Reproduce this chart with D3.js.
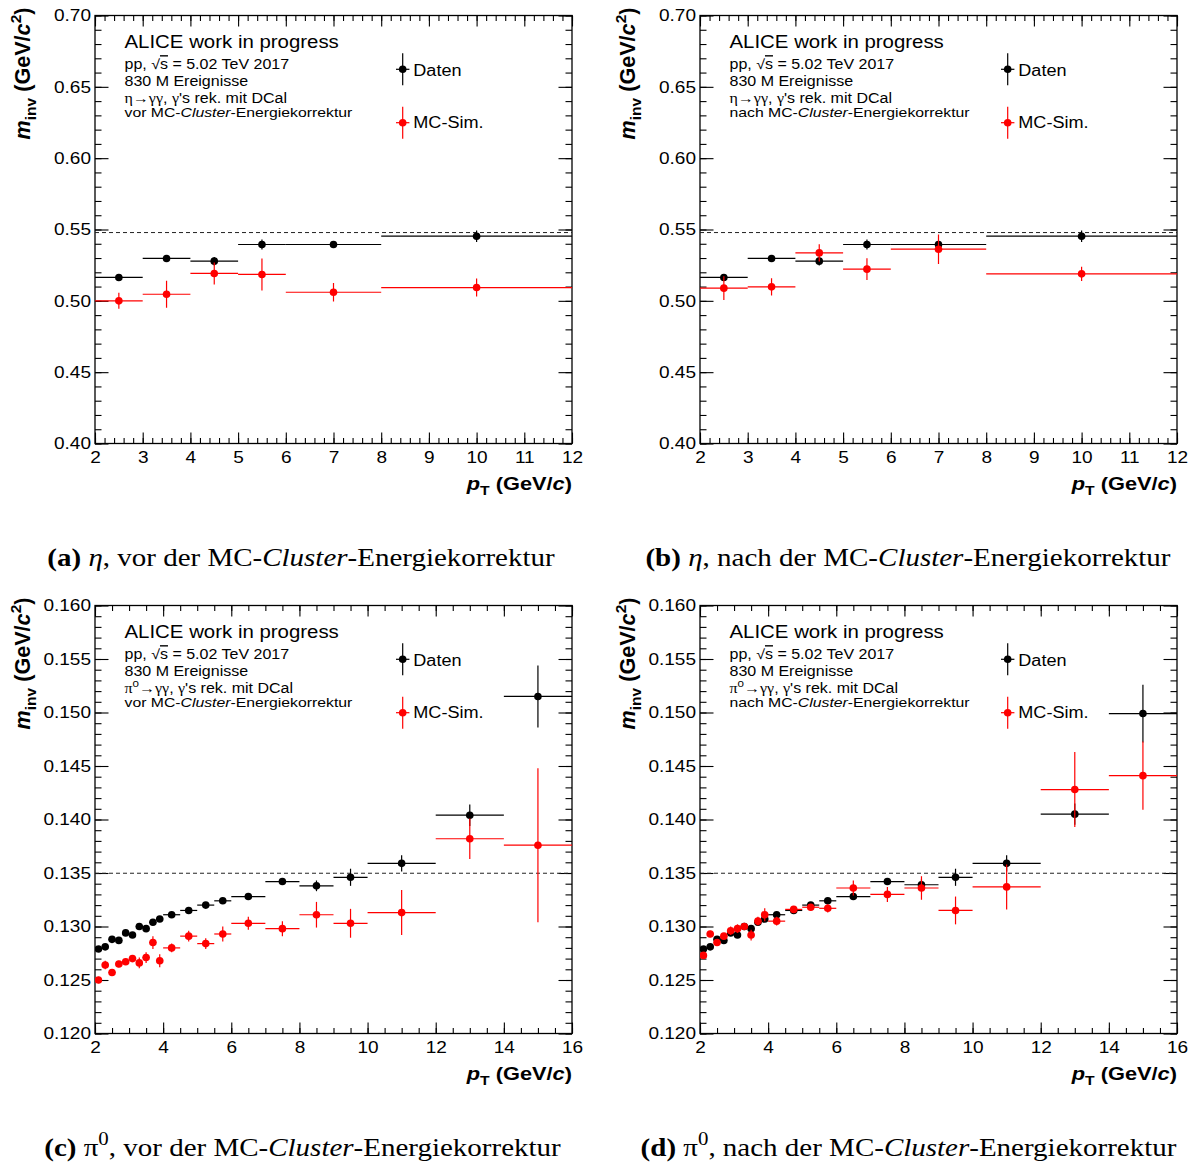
<!DOCTYPE html>
<html>
<head>
<meta charset="utf-8">
<script src="https://cdn.jsdelivr.net/npm/d3@7"></script>
<style>
  body { margin: 0; background: #fff; }
  svg { display: block; }
</style>
</head>
<body>
<svg id="fig" width="1197" height="1164"></svg>
<script>
// ---- eta meson: pT bin edges (GeV/c) and reconstructed mass peak positions (GeV/c^2) ----
const etaPtEdges = [2, 3, 4, 5, 6, 8, 12];
const etaMassData = [0.5164, 0.5297, 0.5278, 0.5395, 0.5395, 0.5453];
const etaMassDataErr = [0.0020, 0.0018, 0.0030, 0.0035, 0.0020, 0.0040];
const etaMassMCvor = [0.5000, 0.5046, 0.5192, 0.5185, 0.5060, 0.5093];
const etaMassMCvorErr = [0.0056, 0.0095, 0.0077, 0.0112, 0.0065, 0.0063];
const etaMassMCnach = [0.5089, 0.5098, 0.5336, 0.5222, 0.5362, 0.5189];
const etaMassMCnachErr = [0.0083, 0.0060, 0.0060, 0.0076, 0.0103, 0.0050];

// ---- neutral pion ----
const pi0PtEdges = [2.0, 2.2, 2.4, 2.6, 2.8, 3.0, 3.2, 3.4, 3.6, 3.8, 4.0, 4.5, 5.0, 5.5, 6.0, 7.0, 8.0, 9.0, 10.0, 12.0, 14.0, 16.0];
const pi0MassDataVor = [0.1279, 0.1281, 0.1288, 0.1287, 0.1294, 0.1292, 0.1300, 0.1298, 0.1304, 0.1307,
                        0.1311, 0.1315, 0.1320, 0.1324, 0.1328, 0.1342, 0.1338, 0.1346, 0.1359, 0.1404, 0.1515];
const pi0MassDataVorErr = [0.0002, 0.0002, 0.0002, 0.0002, 0.0002, 0.0002, 0.0002, 0.0002, 0.0002, 0.0002,
                           0.0002, 0.0002, 0.0002, 0.0002, 0.0003, 0.0003, 0.0005, 0.0008, 0.00075, 0.0010, 0.0029];
const pi0MassDataNach = [0.1279, 0.1281, 0.1288, 0.1287, 0.1294, 0.1292, 0.1300, 0.1298, 0.1304, 0.1307,
                         0.1311, 0.1315, 0.1320, 0.1324, 0.1328, 0.1342, 0.1339, 0.1346, 0.1359, 0.1405, 0.1499];
const pi0MassDataNachErr = [0.0002, 0.0002, 0.0002, 0.0002, 0.0002, 0.0002, 0.0002, 0.0002, 0.0002, 0.0002,
                            0.0002, 0.0002, 0.0002, 0.0002, 0.0003, 0.0003, 0.0005, 0.0008, 0.00075, 0.0010, 0.0027];
const pi0MassMCvor = [0.1250, 0.1264, 0.1257, 0.1265, 0.1267, 0.1270, 0.1266, 0.1271, 0.1285, 0.1268,
                      0.1280, 0.1291, 0.1284, 0.1293, 0.1303, 0.1298, 0.1311, 0.1303, 0.1313, 0.1382, 0.1376];
const pi0MassMCvorErr = [0.0003, 0.0004, 0.0003, 0.0003, 0.0003, 0.0003, 0.0005, 0.0005, 0.0006, 0.0006,
                         0.0004, 0.0005, 0.0005, 0.0007, 0.0006, 0.0007, 0.0012, 0.00135, 0.0021, 0.0019, 0.0072];
const pi0MassMCnach = [0.1273, 0.1293, 0.1285, 0.1291, 0.1296, 0.1298, 0.1300, 0.1292, 0.1305, 0.1311,
                       0.1305, 0.1316, 0.1318, 0.1317, 0.1336, 0.1330, 0.1336, 0.1315, 0.1337, 0.1428, 0.1441];
const pi0MassMCnachErr = [0.0003, 0.0003, 0.0003, 0.0003, 0.0004, 0.0004, 0.0003, 0.0005, 0.0004, 0.0006,
                          0.0004, 0.0003, 0.0003, 0.0004, 0.0007, 0.0007, 0.0011, 0.0013, 0.0021, 0.0035, 0.0032];

// nominal meson masses (dashed reference lines)
const etaMassPDG = 0.547862;
const pi0MassPDG = 0.134977;

// axis ranges
const etaXRange = [2, 12], etaYRange = [0.40, 0.70];
const pi0XRange = [2, 16], pi0YRange = [0.120, 0.160];

const legendLabels = ["Daten", "MC-Sim."];
const headline = "ALICE work in progress";
const eventsLine = "830 M Ereignisse";

const svg = d3.select("#fig");
const SANS = "'Liberation Sans', Arial, Helvetica, sans-serif";
const SERIF = "'Liberation Serif', 'Times New Roman', serif";
const W = 477, H = 428;
const SX = 1.16;   // horizontal stretch applied to all horizontal text

// append tspans with optional italic/bold/sub/superscript runs
function rich(textSel, parts, size) {
  let cur = 0;
  parts.forEach(p => {
    const ts = textSel.append("tspan").text(p.t);
    let off = 0, fs = p.fs || size;
    if (p.sub) { off = size * 0.28; fs = size * 0.72; }
    if (p.sup) { off = -size * 0.42; fs = size * 0.72; }
    if (off - cur !== 0) ts.attr("dy", off - cur);
    cur = off;
    ts.attr("font-size", fs);
    if (p.it) ts.attr("font-style", "italic");
    if (p.b) ts.attr("font-weight", "bold");
    if (p.ff) ts.attr("font-family", p.ff);
    if (p.ol) ts.attr("text-decoration", "overline");
  });
}

// horizontally stretched text anchored at (x, y)
function stext(parent, x, y) {
  return parent.append("text").attr("transform", `translate(${x},${y}) scale(${SX},1)`);
}

function ticksBetween(lo, hi, step) {
  const n = Math.round((hi - lo) / step);
  return d3.range(n + 1).map(i => +(lo + i * step).toFixed(6));
}

function drawPanel(p) {
  const g = svg.append("g");
  const x = d3.scaleLinear().domain(p.xRange).range([p.left, p.left + W]);
  const y = d3.scaleLinear().domain(p.yRange).range([p.top + H, p.top]);
  const x0 = p.left, x1 = p.left + W, y0 = p.top, y1 = p.top + H;

  const majX = ticksBetween(p.xRange[0], p.xRange[1], p.xMajor);
  const minX = ticksBetween(p.xRange[0], p.xRange[1], p.xMinor);
  const majY = ticksBetween(p.yRange[0], p.yRange[1], p.yMajor);
  const minY = ticksBetween(p.yRange[0], p.yRange[1], p.yMinor);

  const styleAxis = sel => {
    sel.select(".domain").remove();
    sel.selectAll("line").attr("stroke", "#000").attr("stroke-width", 1.1);
    sel.selectAll("text").each(function () {
      const t = d3.select(this);
      const tx = +t.attr("x") || 0, ty = +t.attr("y") || 0;
      t.attr("x", null).attr("y", null)
        .attr("transform", `translate(${tx},${ty}) scale(${SX},1)`)
        .attr("font-family", SANS).attr("font-size", 16.4).attr("fill", "#000");
    });
  };

  // bottom axis with labels (ticks point inward)
  g.append("g").attr("transform", `translate(0,${y1})`)
    .call(d3.axisBottom(x).tickValues(majX).tickSizeInner(-11).tickSizeOuter(0).tickPadding(8)
      .tickFormat(d3.format("d")))
    .call(styleAxis);
  g.append("g").attr("transform", `translate(0,${y1})`)
    .call(d3.axisBottom(x).tickValues(minX).tickSizeInner(-5.5).tickSizeOuter(0).tickFormat(""))
    .call(styleAxis);
  // top axis
  g.append("g").attr("transform", `translate(0,${y0})`)
    .call(d3.axisTop(x).tickValues(majX).tickSizeInner(-11).tickSizeOuter(0).tickFormat(""))
    .call(styleAxis);
  g.append("g").attr("transform", `translate(0,${y0})`)
    .call(d3.axisTop(x).tickValues(minX).tickSizeInner(-5.5).tickSizeOuter(0).tickFormat(""))
    .call(styleAxis);
  // left axis with labels
  g.append("g").attr("transform", `translate(${x0},0)`)
    .call(d3.axisLeft(y).tickValues(majY).tickSizeInner(-13.5).tickSizeOuter(0).tickPadding(4)
      .tickFormat(d3.format(p.yFmt)))
    .call(styleAxis);
  g.append("g").attr("transform", `translate(${x0},0)`)
    .call(d3.axisLeft(y).tickValues(minY).tickSizeInner(-6.5).tickSizeOuter(0).tickFormat(""))
    .call(styleAxis);
  // right axis
  g.append("g").attr("transform", `translate(${x1},0)`)
    .call(d3.axisRight(y).tickValues(majY).tickSizeInner(-13.5).tickSizeOuter(0).tickFormat(""))
    .call(styleAxis);
  g.append("g").attr("transform", `translate(${x1},0)`)
    .call(d3.axisRight(y).tickValues(minY).tickSizeInner(-6.5).tickSizeOuter(0).tickFormat(""))
    .call(styleAxis);

  // frame
  g.append("rect").attr("x", x0).attr("y", y0).attr("width", W).attr("height", H)
    .attr("fill", "none").attr("stroke", "#000").attr("stroke-width", 1.3);

  // clip for data
  const clipId = "clip-" + p.id;
  svg.append("clipPath").attr("id", clipId).append("rect")
    .attr("x", x0).attr("y", y0).attr("width", W).attr("height", H);
  const plot = g.append("g").attr("clip-path", `url(#${clipId})`);

  // nominal mass line
  plot.append("line")
    .attr("x1", x(p.xRange[0])).attr("x2", x(p.xRange[1]))
    .attr("y1", y(p.refMass)).attr("y2", y(p.refMass))
    .attr("stroke", "#222").attr("stroke-width", 1).attr("stroke-dasharray", "4,3");

  // series: horizontal bin-width bars, vertical errors, markers
  p.series.forEach(s => {
    const pts = s.values.map((v, i) => ({
      lo: p.edges[i], hi: p.edges[i + 1], c: (p.edges[i] + p.edges[i + 1]) / 2, v, e: s.errors[i]
    }));
    const sg = plot.append("g");
    sg.selectAll(".hbar").data(pts).join("line")
      .attr("x1", d => x(d.lo)).attr("x2", d => x(d.hi))
      .attr("y1", d => y(d.v)).attr("y2", d => y(d.v))
      .attr("stroke", s.color).attr("stroke-width", 1.2);
    sg.selectAll(".vbar").data(pts).join("line")
      .attr("x1", d => x(d.c)).attr("x2", d => x(d.c))
      .attr("y1", d => y(d.v - d.e)).attr("y2", d => y(d.v + d.e))
      .attr("stroke", s.color).attr("stroke-width", 1.2);
    sg.selectAll("circle").data(pts).join("circle")
      .attr("cx", d => x(d.c)).attr("cy", d => y(d.v)).attr("r", 3.8)
      .attr("fill", s.color);
  });

  // axis titles
  const yt = g.append("text")
    .attr("transform", `translate(${x0 - 65},${y0 - 8}) rotate(-90)`)
    .attr("text-anchor", "end").attr("font-family", SANS).attr("font-weight", "bold").attr("fill", "#000");
  rich(yt, [
    { t: "m", it: true }, { t: "inv", sub: true }, { t: " (GeV/" }, { t: "c", it: true },
    { t: "2", sup: true }, { t: ")" }
  ], 21.6);

  const xt = stext(g, x1, y1 + 46.5)
    .attr("text-anchor", "end").attr("font-family", SANS).attr("font-weight", "bold").attr("fill", "#000");
  rich(xt, [
    { t: "p", it: true }, { t: "T", sub: true }, { t: " (GeV/" }, { t: "c", it: true }, { t: ")" }
  ], 18.8);

  // info text block
  const tx = x0 + 29.5;
  stext(g, tx, y0 + 32.8).attr("font-family", SANS).attr("font-size", 17.6).text(headline);
  const l2 = stext(g, tx, y0 + 53.5).attr("font-family", SANS);
  rich(l2, [{ t: "pp,  " }, { t: "\u221A" }, { t: "s", ol: true }, { t: " = 5.02 TeV 2017" }], 13.8);
  stext(g, tx, y0 + 70.5).attr("font-family", SANS).attr("font-size", 13.8).text(eventsLine);
  const l4 = stext(g, tx, y0 + 87.2).attr("font-family", SANS);
  rich(l4, p.decayParts, 13.8);
  const l5 = stext(g, tx, y0 + 101.8).attr("font-family", SANS);
  rich(l5, [{ t: p.stage + " MC-" }, { t: "Cluster", it: true }, { t: "-Energiekorrektur" }], 13.6);

  // legend
  const lx = x0 + 307.7;
  [[p.series[0].color, 53.8, 60.5, legendLabels[0]], [p.series[1].color, 107.2, 112.8, legendLabels[1]]]
    .forEach(([col, my, ty, label]) => {
      const cy = y0 + my;
      g.append("line").attr("x1", lx).attr("x2", lx).attr("y1", cy - 16).attr("y2", cy + 16)
        .attr("stroke", col).attr("stroke-width", 1.2);
      g.append("line").attr("x1", lx - 6.7).attr("x2", lx + 6.7).attr("y1", cy).attr("y2", cy)
        .attr("stroke", col).attr("stroke-width", 1.2);
      g.append("circle").attr("cx", lx).attr("cy", cy).attr("r", 3.8).attr("fill", col);
      stext(g, lx + 10.6, y0 + ty).attr("font-family", SANS).attr("font-size", 15.6).text(label);
    });

  // caption below the panel
  const cap = stext(svg, p.capX, p.capY)
    .attr("text-anchor", "middle").attr("font-family", SERIF).attr("fill", "#000");
  rich(cap, p.captionParts, 25);
}

const etaDecay = [{ t: "\u03B7\u2192\u03B3\u03B3", ff: SERIF }, { t: ", " }, { t: "\u03B3", ff: SERIF },
                  { t: "'s rek. mit DCal" }];
const pi0Decay = [{ t: "\u03C0", ff: SERIF }, { t: "0", sup: true }, { t: "\u2192\u03B3\u03B3", ff: SERIF },
                  { t: ", " }, { t: "\u03B3", ff: SERIF }, { t: "'s rek. mit DCal" }];

const BLACK = "#000000", RED = "#ff0000";

const panels = [
  {
    id: "a", left: 95, top: 15.5, xRange: etaXRange, yRange: etaYRange, xMajor: 1, xMinor: 0.2,
    yMajor: 0.05, yMinor: 0.01, yFmt: ".2f", refMass: etaMassPDG, edges: etaPtEdges,
    series: [{ values: etaMassData, errors: etaMassDataErr, color: BLACK },
             { values: etaMassMCvor, errors: etaMassMCvorErr, color: RED }],
    decayParts: etaDecay, stage: "vor", capX: 301, capY: 565.5,
    captionParts: [{ t: "(a)", b: true }, { t: " " }, { t: "\u03B7", it: true },
                   { t: ", vor der MC-" }, { t: "Cluster", it: true }, { t: "-Energiekorrektur" }]
  },
  {
    id: "b", left: 700, top: 15.5, xRange: etaXRange, yRange: etaYRange, xMajor: 1, xMinor: 0.2,
    yMajor: 0.05, yMinor: 0.01, yFmt: ".2f", refMass: etaMassPDG, edges: etaPtEdges,
    series: [{ values: etaMassData, errors: etaMassDataErr, color: BLACK },
             { values: etaMassMCnach, errors: etaMassMCnachErr, color: RED }],
    decayParts: etaDecay, stage: "nach", capX: 908, capY: 565.5,
    captionParts: [{ t: "(b)", b: true }, { t: " " }, { t: "\u03B7", it: true },
                   { t: ", nach der MC-" }, { t: "Cluster", it: true }, { t: "-Energiekorrektur" }]
  },
  {
    id: "c", left: 95, top: 605.5, xRange: pi0XRange, yRange: pi0YRange, xMajor: 2, xMinor: 0.5,
    yMajor: 0.005, yMinor: 0.001, yFmt: ".3f", refMass: pi0MassPDG, edges: pi0PtEdges,
    series: [{ values: pi0MassDataVor, errors: pi0MassDataVorErr, color: BLACK },
             { values: pi0MassMCvor, errors: pi0MassMCvorErr, color: RED }],
    decayParts: pi0Decay, stage: "vor", capX: 302.5, capY: 1155.5,
    captionParts: [{ t: "(c)", b: true }, { t: " \u03C0" }, { t: "0", sup: true },
                   { t: ", vor der MC-" }, { t: "Cluster", it: true }, { t: "-Energiekorrektur" }]
  },
  {
    id: "d", left: 700, top: 605.5, xRange: pi0XRange, yRange: pi0YRange, xMajor: 2, xMinor: 0.5,
    yMajor: 0.005, yMinor: 0.001, yFmt: ".3f", refMass: pi0MassPDG, edges: pi0PtEdges,
    series: [{ values: pi0MassDataNach, errors: pi0MassDataNachErr, color: BLACK },
             { values: pi0MassMCnach, errors: pi0MassMCnachErr, color: RED }],
    decayParts: pi0Decay, stage: "nach", capX: 908.5, capY: 1155.5,
    captionParts: [{ t: "(d)", b: true }, { t: " \u03C0" }, { t: "0", sup: true },
                   { t: ", nach der MC-" }, { t: "Cluster", it: true }, { t: "-Energiekorrektur" }]
  }
];

panels.forEach(drawPanel);
</script>
</body>
</html>
